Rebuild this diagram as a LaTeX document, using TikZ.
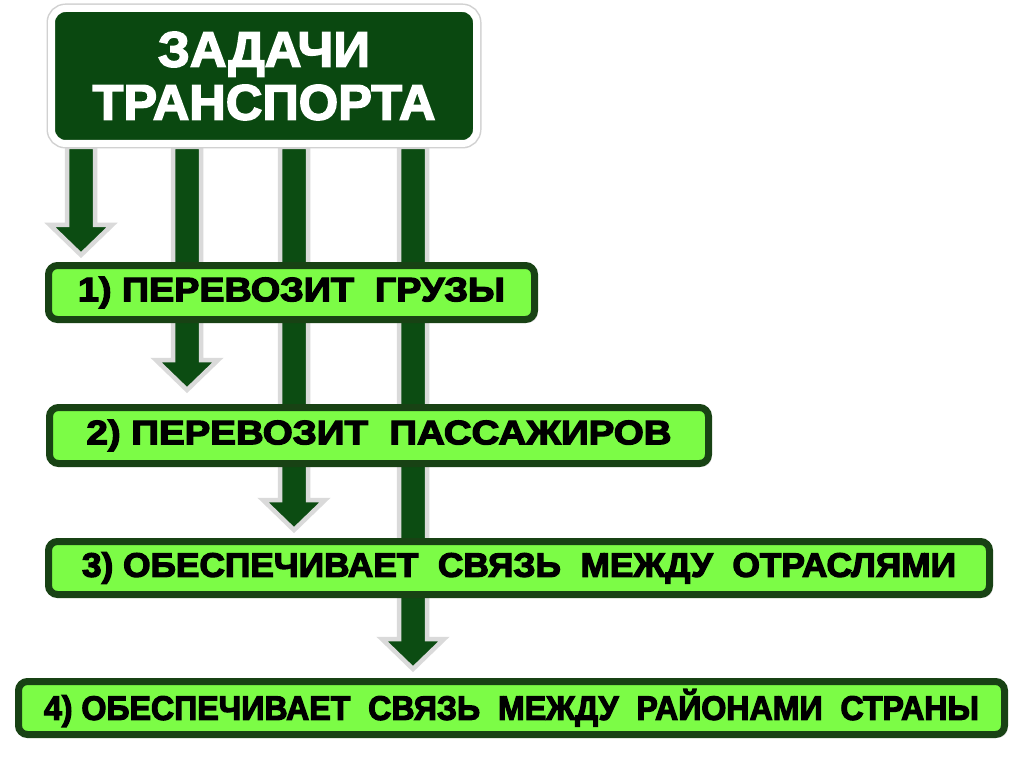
\documentclass[tikz,border=0pt]{standalone}
\usepackage{fontspec}
\setmainfont{Liberation Sans}
\newfontfamily\boxfont{Liberation Sans}[BoldFeatures={FakeBold=3.5}]
\newfontfamily\titlefont{Liberation Sans}[BoldFeatures={FakeBold=3}]
\usetikzlibrary{calc,shadows,backgrounds}
\definecolor{titlegreen}{RGB}{10,72,16}
\definecolor{arrowgreen}{RGB}{12,76,18}
\definecolor{arrowrim}{RGB}{218,218,218}
\definecolor{boxgreen}{RGB}{124,252,70}
\definecolor{boxdark}{RGB}{24,66,20}
\newcommand{\fitw}[2]{\resizebox{#1}{\height}{#2}}
\tikzset{
  titlebox/.style={fill=titlegreen, draw=white, line width=7pt, rounded corners=14pt,
    preaction={draw=black!18, line width=10pt},
    drop shadow={shadow xshift=1pt, shadow yshift=-3pt, opacity=0.25},
    text=white, align=center, inner sep=2pt,
    font=\titlefont\bfseries\fontsize{50}{53}\selectfont},
  taskbox/.style={fill=boxgreen, draw=boxdark, line width=7pt, rounded corners=9pt,
    drop shadow={shadow xshift=3pt, shadow yshift=-3pt, opacity=0.35},
    text=black, inner sep=2pt,
    font=\boxfont\bfseries\fontsize{34}{38}\selectfont},
  bigarrow/.style={fill=arrowgreen, draw=arrowrim, line width=4.5pt, line join=miter,
    to path={let \p1=(\tikztostart), \p2=(\tikztotarget) in
      (\x1-14pt,\y1) -- (\x1-14pt,\y2+30pt) -- (\x1-31pt,\y2+30pt) -- (\x1,\y2)
      -- (\x1+31pt,\y2+30pt) -- (\x1+14pt,\y2+30pt) -- (\x1+14pt,\y1) -- cycle}}
}
\begin{document}
\begin{tikzpicture}[x=1pt,y=-1pt]
\useasboundingbox (0,0) rectangle (1024,767);
\node[titlebox, minimum width=425pt, minimum height=135pt] (T) at (264,76) {\fitw{212pt}{ЗАДАЧИ}\\\fitw{343pt}{ТРАНСПОРТА}};
\node[taskbox, minimum width=486pt, minimum height=54pt] (B1) at (291.5,292.5) {\fitw{427pt}{1) ПЕРЕВОЗИТ\ \ ГРУЗЫ}};
\node[taskbox, minimum width=659pt, minimum height=56pt] (B2) at (379,435.5) {\fitw{585pt}{2) ПЕРЕВОЗИТ\ \ ПАССАЖИРОВ}};
\node[taskbox, minimum width=941pt, minimum height=53pt] (B3) at (519,568) {\fitw{874pt}{3) ОБЕСПЕЧИВАЕТ\ \ СВЯЗЬ\ \ МЕЖДУ\ \ ОТРАСЛЯМИ}};
\node[taskbox, minimum width=986pt, minimum height=53pt] (B4) at (511.5,708) {\fitw{935pt}{4) ОБЕСПЕЧИВАЕТ\ \ СВЯЗЬ\ \ МЕЖДУ\ \ РАЙОНАМИ\ \ СТРАНЫ}};
\coordinate (x1) at (81,0);
\coordinate (x2) at (187,0);
\coordinate (x3) at (294,0);
\coordinate (x4) at (413,0);
\begin{scope}[on background layer]
\fill[white] (0,0) rectangle (1024,767);
\draw[bigarrow] (T.south -| x1) to ([yshift=7pt]B1.north -| x1);
\draw[bigarrow] (T.south -| x2) to ([yshift=14pt]B2.north -| x2);
\draw[bigarrow] (T.south -| x3) to ([yshift=8pt]B3.north -| x3);
\draw[bigarrow] (T.south -| x4) to ([yshift=9pt]B4.north -| x4);
\end{scope}
\end{tikzpicture}
\end{document}
